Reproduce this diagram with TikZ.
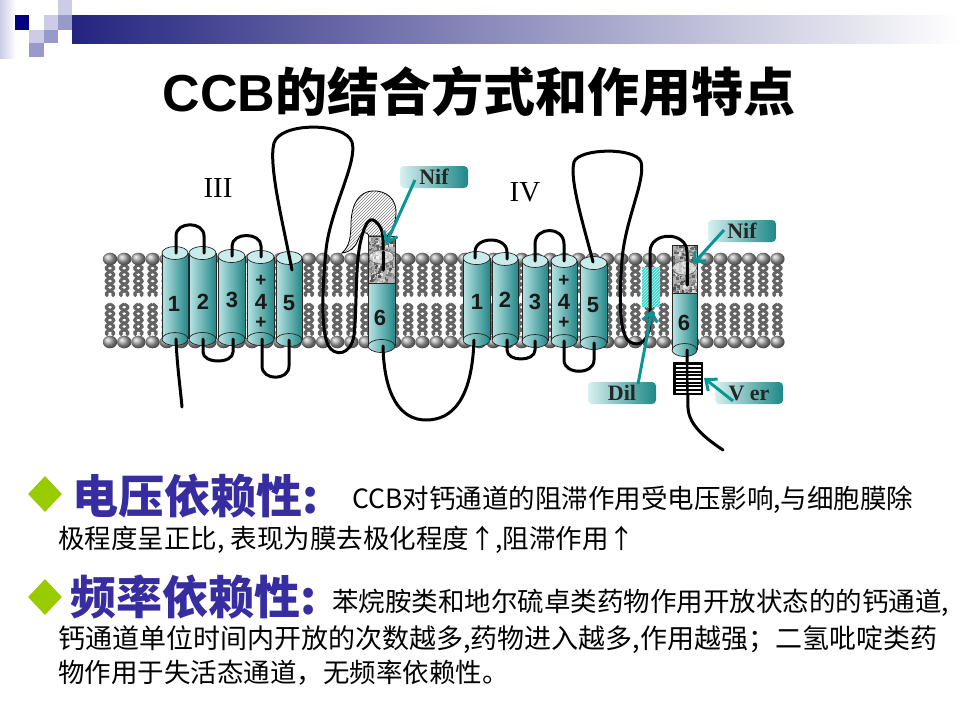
\documentclass[tikz,border=0pt]{standalone}
\usepackage{fontspec}
\setmainfont{Liberation Serif}
\setsansfont{Liberation Sans}
\newfontfamily\cjk{Noto Sans CJK SC}
\usetikzlibrary{arrows.meta,patterns,shapes.geometric}
\definecolor{navy}{RGB}{0,0,128}
\definecolor{lavL}{RGB}{204,204,230}
\definecolor{lavM}{RGB}{153,153,204}
\definecolor{barL}{RGB}{36,36,128}
\definecolor{cylL}{RGB}{185,228,228}
\definecolor{cylM}{RGB}{150,210,210}
\definecolor{cylR}{RGB}{35,135,135}
\definecolor{cylT}{RGB}{200,236,236}
\definecolor{labL}{RGB}{215,240,240}
\definecolor{labR}{RGB}{30,135,135}
\definecolor{arrC}{RGB}{10,150,150}
\definecolor{dilC}{RGB}{60,215,205}
\definecolor{headC}{RGB}{55,45,160}
\definecolor{dgreen}{RGB}{153,204,0}
\definecolor{tailC}{RGB}{100,100,100}
\tikzset{
  cylshade/.style={left color=cylL, middle color=cylM, right color=cylR},
  cyledge/.style={draw=black!85, line width=0.7},
  loopline/.style={draw=black, line width=3, line cap=round, line join=round},
  tail/.style={draw=tailC, line width=3},
  lab/.style={rounded corners=4, minimum width=68, minimum height=22, inner sep=0,
    left color=labL, right color=labR, text=black!85,
    font=\bfseries\fontsize{22}{22}\selectfont},
  pointer/.style={draw=arrC, line width=3, -{Straight Barb[length=9,width=15]}},
  num/.style={font=\sffamily\bfseries\fontsize{22}{22}\selectfont, text=black!90, inner sep=0},
  plus/.style={font=\sffamily\bfseries\fontsize{19}{19}\selectfont, text=black!90, inner sep=0},
  head/.style={font=\cjk\bfseries\fontsize{46}{50}\selectfont, text=headC, inner sep=0, anchor=west},
  body/.style={font=\cjk\fontsize{26.5}{30}\selectfont, text=black, inner sep=0, anchor=west},
}
\newcommand\drawcyl[4]{%
  \pgfmathsetmacro\cylx{(#1+#2)/2}\pgfmathsetmacro\cylr{(#2-#1)/2}
  \shade[cylshade] (#1,#3) rectangle (#2,#4);
  \shade[cylshade] (\cylx,#4) ellipse ({\cylr} and 6.5);
  \draw[cyledge] (#1,#3) -- (#1,#4) (#2,#3) -- (#2,#4);
  \draw[cyledge] (\cylx,#4) ellipse ({\cylr} and 6.5);
  \filldraw[cyledge, fill=cylT] (\cylx,#3) ellipse ({\cylr} and 6.5);
}
% #1 xl, #2 xr, #3 ytop speckle, #4 ybreak, #5 ybottom
\newcommand\drawsix[5]{%
  \pgfmathsetmacro\cylx{(#1+#2)/2}\pgfmathsetmacro\cylr{(#2-#1)/2}
  \shade[cylshade] (#1,#4) rectangle (#2,#5);
  \shade[cylshade] (\cylx,#5) ellipse ({\cylr} and 6.5);
  \draw[cyledge] (#1,#4) -- (#1,#5) (#2,#4) -- (#2,#5);
  \draw[cyledge] (\cylx,#5) ellipse ({\cylr} and 6.5);
  \begin{scope}
    \clip (#1,#3) rectangle (#2,#4);
    \fill[black!30] (#1,#3) rectangle (#2,#4);
    \foreach \k in {1,...,260}{%
      \pgfmathsetmacro\sx{#1+rnd*(#2-#1)}%
      \pgfmathsetmacro\sy{#3+rnd*(#4-#3)}%
      \pgfmathtruncatemacro\sg{10+rnd*60}%
      \fill[black!\sg] (\sx,\sy) rectangle ++(2.6,2.6);
    }
  \end{scope}
  \draw[cyledge] (#1,#3) rectangle (#2,#4);
}
\begin{document}
\begin{tikzpicture}[x=1pt,y=-1pt]
\pgfmathsetseed{7}
\useasboundingbox (0,0) rectangle (960,720);
\fill[white] (0,0) rectangle (960,720);
% ---------- corner decoration ----------
\shade[left color=lavL, right color=white] (0,0) rectangle (16,58);
\shade[left color=barL, right color=white] (72,15) rectangle (960,43);
\fill[navy] (14.5,15) rectangle (29,29.5);
\fill[lavL] (29,29.5) rectangle (43.5,43);
\fill[lavM] (29,43) rectangle (43.5,57);
\fill[lavL] (43.5,15) rectangle (58,29.5);
\fill[lavM] (43.5,29.5) rectangle (58,43);
\fill[lavL] (58,0) rectangle (72,15);
\fill[lavM] (58,15) rectangle (72,29.5);
% ---------- title ----------
\node[inner sep=0, font=\fontsize{52}{60}\selectfont] (title) at (479,91)
  {\sffamily\bfseries CCB\cjk\bfseries 的结合方式和作用特点};
% ---------- membrane ----------
\foreach \i in {0,...,47}{%
  \pgfmathsetmacro\c{110+14.2*\i}
  \draw[tail] plot[domain=0:31,samples=24,smooth] ({\c+3.8*sin(\x*28)},{265+\x});
  \draw[tail] plot[domain=0:31,samples=24,smooth] ({\c-3.8*sin(\x*28)},{265+\x});
  \draw[tail] plot[domain=0:31,samples=24,smooth] ({\c+3.8*sin(\x*28)},{304+\x});
  \draw[tail] plot[domain=0:31,samples=24,smooth] ({\c-3.8*sin(\x*28)},{304+\x});
}
\foreach \i in {0,...,47}{%
  \pgfmathsetmacro\c{110+14.2*\i}
  \shade[ball color=gray!70] (\c,259) ellipse (7.2 and 6.3);
  \shade[ball color=gray!70] (\c,342) ellipse (7.2 and 6.3);
}
% ---------- domain III helices ----------
\drawcyl{162}{188}{253}{339}
\drawcyl{189}{216}{253}{339}
\drawcyl{218}{245}{256}{339}
\drawcyl{247}{274}{257}{339}
\drawcyl{276}{302}{258}{340}
\drawsix{368}{395}{236}{283}{346}
% ---------- domain IV helices ----------
\drawcyl{463}{490}{258}{340}
\drawcyl{492}{518}{259}{340}
\drawcyl{522}{548}{261}{341}
\drawcyl{551}{577}{261}{341}
\drawcyl{580}{607}{263}{343}
\drawsix{672}{697}{245}{293}{350}
% ---------- hatched Nif site (III) ----------
\path[fill=white] (342,253) .. controls (349,247) and (351,238) .. (351,222)
  .. controls (352,202) and (360,192) .. (372,191) .. controls (386,190) and (397,199) .. (396,214)
  .. controls (395,226) and (391,232) .. (387,236) -- (369,236)
  .. controls (366,230) and (361,232) .. (358,240) .. controls (355,248) and (350,252) .. (342,253) -- cycle;
\draw[pattern=north east lines, pattern color=gray, draw=black, line width=0.8]
  (342,253) .. controls (349,247) and (351,238) .. (351,222)
  .. controls (352,202) and (360,192) .. (372,191) .. controls (386,190) and (397,199) .. (396,214)
  .. controls (395,226) and (391,232) .. (387,236) -- (369,236)
  .. controls (366,230) and (361,232) .. (358,240) .. controls (355,248) and (350,252) .. (342,253) -- cycle;
% ---------- Dil site ----------
\fill[dilC] (642,267) rectangle (660,307);
\fill[pattern=north east lines, pattern color=white!70!dilC] (642,267) rectangle (660,307);
% ---------- loops (III) ----------
\draw[loopline] (176,253) -- (176,236) .. controls (176,221) and (204,221) .. (204,236) -- (204,253);
\draw[loopline] (232,256) -- (232,246) .. controls (232,232) and (261,232) .. (261,246) -- (261,257);
\draw[loopline] (203,339) -- (203,352) .. controls (203,364) and (233,364) .. (233,352) -- (233,339);
\draw[loopline] (262,339) -- (262,366) .. controls (262,381) and (289,381) .. (289,366) -- (289,340);
\draw[loopline] (176,339) .. controls (177,365) and (180,385) .. (182,407);
\draw[loopline] (292,270) .. controls (284,228) and (268,165) .. (274,143)
  .. controls (280,122) and (345,122) .. (352,142) .. controls (358,162) and (330,210) .. (326,250)
  .. controls (322,290) and (321,330) .. (328,345) .. controls (334,357) and (351,356) .. (354,335)
  .. controls (357,310) and (355,262) .. (361,240) .. controls (364,226) and (369,216) .. (375,221)
  .. controls (380,225) and (383,230) .. (383,240) -- (383,270);
\draw[loopline] (383,346) .. controls (384,395) and (400,420) .. (426,420)
  .. controls (452,420) and (472,400) .. (474,340);
% ---------- loops (IV) ----------
\draw[loopline] (475,258) -- (475,252) .. controls (475,236) and (507,236) .. (507,252) -- (507,259);
\draw[loopline] (535,261) -- (535,244) .. controls (535,226) and (564,226) .. (564,244) -- (564,261);
\draw[loopline] (507,340) -- (507,350) .. controls (507,362) and (535,362) .. (535,350) -- (535,341);
\draw[loopline] (564,341) -- (564,360) .. controls (564,375) and (594,375) .. (594,360) -- (594,343);
\draw[loopline] (593,262) .. controls (585,230) and (569,180) .. (574,162)
  .. controls (579,148) and (636,147) .. (641,162) .. controls (646,180) and (625,220) .. (622,260)
  .. controls (619,300) and (619,335) .. (630,342) .. controls (640,348) and (650,340) .. (650,320)
  -- (650,252) .. controls (650,231) and (687,231) .. (687,252) -- (687,285);
\draw[loopline] (687,350) -- (688,408) .. controls (689,425) and (705,438) .. (723,450);
% ---------- Ver site ----------
\fill[black] (673,362) rectangle (703,395);
\foreach \yy in {366,369.7,...,392}{\draw[white, line width=1.7] (675.5,\yy) -- (700.5,\yy);}
\draw[loopline, line width=2.4] (687,362) -- (687.5,395);
% ---------- translucent pore ellipses ----------
\filldraw[draw=black!60, line width=0.6, fill=white, fill opacity=0.55] (381.5,257) ellipse (12.5 and 7);
\filldraw[draw=black!60, line width=0.6, fill=white, fill opacity=0.55] (684.5,268) ellipse (12 and 7);
\draw[loopline] (383,252) -- (383,270);
\draw[loopline] (687,262) -- (687,285);
% ---------- helix numbers ----------
\node[num] (n31) at (174,304) {1};
\node[num] (n32) at (203,302) {2};
\node[num] (n33) at (232,300) {3};
\node[plus] (p31) at (261,281) {+};
\node[num] (n34) at (261,302) {4};
\node[plus] (p32) at (261,323) {+};
\node[num] (n35) at (289,303) {5};
\node[num] (n36) at (380,318) {6};
\node[num] (n41) at (477,302) {1};
\node[num] (n42) at (505,300) {2};
\node[num] (n43) at (535,302) {3};
\node[plus] (p41) at (564,281) {+};
\node[num] (n44) at (564,302) {4};
\node[plus] (p42) at (564,323) {+};
\node[num] (n45) at (593,305) {5};
\node[num] (n46) at (684,323) {6};
% ---------- domain labels ----------
\node[font=\fontsize{29}{30}\selectfont, inner sep=0] (d3) at (218,188) {III};
\node[font=\fontsize{29}{30}\selectfont, inner sep=0] (d4) at (525,192) {IV};
% ---------- drug labels ----------
\node[lab] (nif3) at (434,177) {Nif};
\node[lab] (nif4) at (742,231) {Nif};
\node[lab] (dil) at (622,393) {Dil};
\node[lab] (ver) at (749,393) {V er};
\coordinate (nif3s) at (415,180);
\coordinate (nif3t) at (386,244);
\coordinate (nif4s) at (724,230);
\coordinate (nif4t) at (693,264);
\coordinate (dils) at (638,384);
\coordinate (dilt) at (652,310);
\coordinate (vers) at (733,401);
\coordinate (vert) at (704,378);
\draw[pointer] (nif3s) -- (nif3t);
\draw[pointer] (nif4s) -- (nif4t);
\draw[pointer] (dils) -- (dilt);
\draw[pointer] (vers) -- (vert);
% ---------- text ----------
\node[diamond, fill=dgreen, minimum width=34, minimum height=36, inner sep=0] (dm1) at (45,494) {};
\node[head] (h1) at (72,496) {电压依赖性:};
\node[body] (b1) at (352,500) {CCB对钙通道的阻滞作用受电压影响,与细胞膜除};
\node[body] (b2) at (58,540) {极程度呈正比, 表现为膜去极化程度↑,阻滞作用↑};
\node[diamond, fill=dgreen, minimum width=34, minimum height=36, inner sep=0] (dm2) at (45,597) {};
\node[head] (h2) at (70,597) {频率依赖性:};
\node[body] (b3) at (332,603) {苯烷胺类和地尔硫卓类药物作用开放状态的的钙通道,};
\node[body, font=\cjk\fontsize{27}{30}\selectfont] (b4) at (58,640) {钙通道单位时间内开放的次数越多,药物进入越多,作用越强；二氢吡啶类药};
\node[body] (b5) at (58,673) {物作用于失活态通道，无频率依赖性。};
\end{tikzpicture}
\end{document}
